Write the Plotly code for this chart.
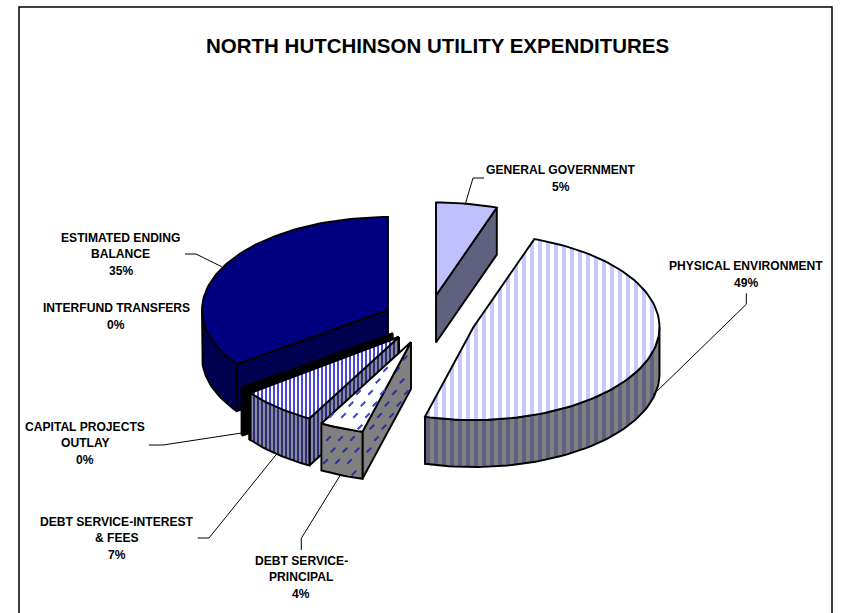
import math
import plotly.graph_objects as go

# ---- data (percent of total, clockwise from 12 o'clock)
categories = ["GENERAL GOVERNMENT", "PHYSICAL ENVIRONMENT", "DEBT SERVICE-PRINCIPAL",
              "DEBT SERVICE-INTEREST & FEES", "CAPITAL PROJECTS OUTLAY",
              "INTERFUND TRANSFERS", "ESTIMATED ENDING BALANCE"]
values = [5.3, 48.9, 3.8, 6.7, 0.2, 0.2, 34.9]
label_lines = [["GENERAL GOVERNMENT"], ["PHYSICAL ENVIRONMENT"], ["DEBT SERVICE-", "PRINCIPAL"],
               ["DEBT SERVICE-INTEREST", "& FEES"], ["CAPITAL PROJECTS", "OUTLAY"],
               ["INTERFUND TRANSFERS"], ["ESTIMATED ENDING", "BALANCE"]]
title = "NORTH HUTCHINSON UTILITY EXPENDITURES"

# ---- layout parameters of the drawing (pixels of the 842x613 page)
W, H = 842, 613
RX, RY, DEPTH = 186, 93, 47
apex_x = [436, 473.5, 411, 399, 399, 392.7, 388]      # exploded position of each slice
apex_y = [295.5, 327, 342, 337, 337, 333.3, 310]
label_x = [560.8, 746.3, 301.3, 116.7, 85.3, 116, 120.7]
label_y = [170, 265.7, 560.7, 521.7, 427, 307.5, 237.7]
leaders = [[(484, 178), (473, 178), (465, 205)],
           [(746.3, 293.3), (746.3, 304.3), (653, 395)],
           [(301.3, 550), (301.3, 538.3), (341, 474)],
           [(197.7, 538), (209, 538), (276.7, 454)],
           [(149, 445), (163, 445), (241.7, 433)],
           None,
           [(185, 254), (196, 254), (221.7, 266.7)]]
styles = [
    dict(top=("#c0c0ff", None, 0), side=("#60607f", None, 0)),
    dict(top=("#ffffff", "#c8c8ff", 8), side=("#808080", "#5f5f80", 8)),
    dict(top=("#ffffff", None, 0), side=("#808080", None, 0), dash=("#4040e0", "#2c2cb0")),
    dict(top=("#ffffff", "#4848e0", 4), side=("#8a8aa0", "#2c2c70", 4)),
    dict(top=("#2a2a6a", None, 0), side=("#2a2a6a", None, 0)),
    dict(top=("#000000", None, 0), side=("#000000", None, 0)),
    dict(top=("#000080", None, 0), side=("#000050", None, 0)),
]
draw_order = [0, 6, 5, 4, 3, 2, 1]
LINE = 1.9

fig = go.Figure()


def rim(cx, cy, t):
    r = math.radians(t)
    return cx + RX * math.sin(r), cy - RY * math.cos(r)


def arc(cx, cy, a, b, dy=0):
    n = max(2, int(abs(b - a) / 1.5) + 1)
    pts = [rim(cx, cy, a + (b - a) * i / (n - 1)) for i in range(n)]
    return [(x, y + dy) for x, y in pts]


def inside(p, poly):
    x, y = p
    c = False
    for (x1, y1), (x2, y2) in zip(poly, poly[1:] + poly[:1]):
        if (y1 > y) != (y2 > y) and x < x1 + (y - y1) * (x2 - x1) / (y2 - y1):
            c = not c
    return c


def face(poly, style, dash=None):
    bg, fg, size = style
    closed = poly + poly[:1]
    kw = dict(x=[p[0] for p in closed], y=[p[1] for p in closed], mode="lines", fill="toself",
              fillcolor=bg, line=dict(color="black", width=LINE), hoverinfo="skip", showlegend=False)
    if fg:
        kw["fillpattern"] = dict(shape="|", size=size, solidity=0.5, fgcolor=fg, bgcolor=bg, fgopacity=1)
    fig.add_trace(go.Scatter(**kw))
    if dash:
        xs, ys = [], []
        for row in range(0, 18):
            for col in range(0, 16):
                px = 300 + col * 12 + (row * 4.5) % 12
                py = 335 + row * 11.5
                if inside((px, py), poly) and all(
                        inside((px + dx, py + dy), poly) for dx, dy in ((2.5, -2.5), (-2.5, 2.5))):
                    xs.append(px)
                    ys.append(py)
        fig.add_trace(go.Scatter(x=xs, y=ys, mode="markers", hoverinfo="skip", showlegend=False,
                                 marker=dict(symbol="line-ne", size=4.5, line=dict(color=dash, width=2))))


starts, total = [], 0.0
for v in values:
    starts.append(total * 3.6)
    total += v

for i in draw_order:
    s, e = starts[i], starts[i] + values[i] * 3.6
    cx, cy = apex_x[i], apex_y[i]
    st = styles[i]
    dash = st.get("dash", (None, None))
    # radial faces facing the viewer
    for t, visible in ((e, math.sin(math.radians(e)) > 0), (s, math.sin(math.radians(s)) < 0)):
        if visible:
            px, py = rim(cx, cy, t)
            face([(cx, cy), (px, py), (px, py + DEPTH), (cx, cy + DEPTH)], st["side"], dash[1])
    # outer rim
    a, b = max(s, 90), min(e, 270)
    if b > a:
        face(arc(cx, cy, a, b) + arc(cx, cy, b, a, DEPTH), st["side"], dash[1])
    # top
    face([(cx, cy)] + arc(cx, cy, s, e), st["top"], dash[0])

# leader lines
for lead in leaders:
    if lead:
        fig.add_trace(go.Scatter(x=[p[0] for p in lead], y=[p[1] for p in lead], mode="lines",
                                 line=dict(color="black", width=1), hoverinfo="skip", showlegend=False))

# labels, one annotation per line so that the leading can match
for name, lines, v, x, y in zip(categories, label_lines, values, label_x, label_y):
    rows = lines + [f"{round(v)}%"]
    yy = y
    for k, row in enumerate(rows):
        fig.add_annotation(x=x, y=yy, text=f"<b>{row}</b>", showarrow=False, xanchor="center", yanchor="middle",
                           font=dict(family="Liberation Sans", size=12.1, color="black"))
        yy += 16 if k < len(rows) - 2 else 17.3

fig.add_annotation(x=437, y=45, text=f"<b>{title}</b>", showarrow=False, xanchor="center", yanchor="middle",
                   font=dict(family="Liberation Sans", size=20.5, color="black"))

# chart frame
fig.add_shape(type="rect", x0=19, y0=7, x1=832, y1=640, line=dict(color="black", width=1.5), layer="below")

fig.update_layout(
    width=W, height=H, margin=dict(l=0, r=0, t=0, b=0), paper_bgcolor="white", plot_bgcolor="white",
    showlegend=False,
    xaxis=dict(range=[0, W], visible=False, fixedrange=True),
    yaxis=dict(range=[H, 0], visible=False, fixedrange=True),
)
fig.write_html("out.html", config=dict(displayModeBar=False),
               post_script="document.body.style.margin='0';document.body.style.overflow='hidden';")
